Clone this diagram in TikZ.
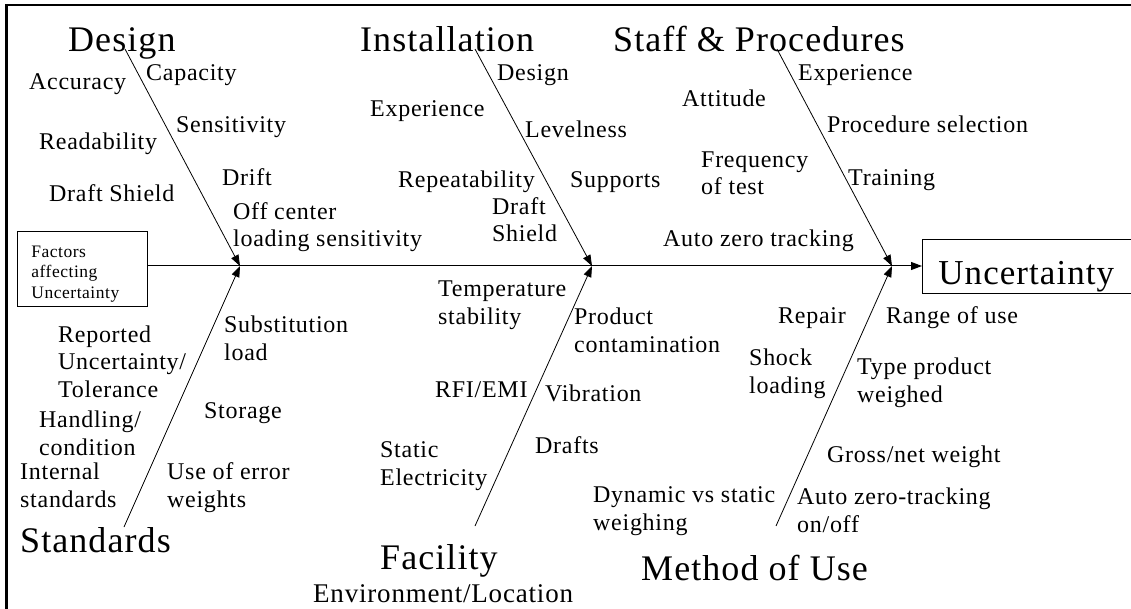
\documentclass[tikz,border=0pt]{standalone}
\usepackage{fontspec}
\setmainfont{Liberation Serif}[LetterSpace=3]
\usetikzlibrary{arrows.meta}
\begin{document}
\begin{tikzpicture}[x=1pt,y=-1pt,
  lbl/.style={font=\fontsize{24}{27.5}\selectfont, anchor=base west, inner sep=0pt, align=left},
  head/.style={font=\fontsize{36}{40}\selectfont, anchor=base west, inner sep=0pt},
  bone/.style={line width=0.8pt, -{Triangle[length=11pt,width=8pt]}},
  spine/.style={line width=1pt, -{Triangle[length=11pt,width=8pt]}},
  boxed/.style={draw, line width=0.8pt, inner ysep=0pt, align=left}]
\useasboundingbox (0,0) rectangle (1131,609);
\clip (0,0) rectangle (1131,609);
% frame
\draw[line width=2.5pt] (6.5,630) -- (6.5,5) -- (1160,5);
% headings
\node[head] (hDes) at (68,52) {Design};
\node[head] (hIns) at (360,52) {Installation};
\node[head] (hSta) at (613,52) {Staff \& Procedures};
\node[head] (hStd) at (20,552) {Standards};
\node[head] (hFac) at (380,569) {Facility};
\node[lbl, font=\fontsize{27}{30}\selectfont] (hEnv) at (313,602) {Environment/Location};
\node[head] (hMet) at (641,580) {Method of Use};
% boxes
\node[boxed, anchor=north west, inner xsep=14pt, text width=102pt, text height=26pt, text depth=49pt,
      font=\fontsize{17.5}{20.5}\selectfont] (fac) at (17,231) {Factors\\affecting\\Uncertainty};
\node[boxed, anchor=base west, inner xsep=16pt, text width=280pt, text height=46pt, text depth=8pt,
      font=\fontsize{35}{40}\selectfont] (unc) at (922,285) {Uncertainty};
% coordinates
\coordinate (j1) at (240,266);
\coordinate (j2) at (592,266);
\coordinate (j3) at (892,266);
\coordinate (tDes) at (125,49);
\coordinate (tIns) at (475,49);
\coordinate (tSta) at (777,49);
\coordinate (bStd) at (124,527);
\coordinate (bFac) at (475,526);
\coordinate (bMet) at (776,526);
% spine and bones
\draw[spine] (fac.east |- j1) -- (unc.west |- j1);
\draw[bone] (tDes) -- (j1);
\draw[bone] (tIns) -- (j2);
\draw[bone] (tSta) -- (j3);
\draw[bone] (bStd) -- (j1);
\draw[bone] (bFac) -- (j2);
\draw[bone] (bMet) -- (j3);
% Design (multi-line labels are placed by the baseline of their last line)
\node[lbl] (l1) at (29,90) {Accuracy};
\node[lbl] (l2) at (146,81) {Capacity};
\node[lbl] (l3) at (176,133) {Sensitivity};
\node[lbl] (l4) at (39,150) {Readability};
\node[lbl] (l5) at (222,186) {Drift};
\node[lbl] (l6) at (49,202) {Draft Shield};
\node[lbl] (l7) at (233,247) {Off center\\loading sensitivity};
% Installation
\node[lbl] (l8) at (497,81) {Design};
\node[lbl] (l9) at (370,117) {Experience};
\node[lbl] (l10) at (525,138) {Levelness};
\node[lbl] (l11) at (398,188) {Repeatability};
\node[lbl] (l12) at (570,188) {Supports};
\node[lbl] (l13) at (492,242) {Draft\\Shield};
% Staff
\node[lbl] (l14) at (682,107) {Attitude};
\node[lbl] (l15) at (701,195) {Frequency\\of test};
\node[lbl] (l16) at (663,247) {Auto zero tracking};
\node[lbl] (l17) at (798,81) {Experience};
\node[lbl] (l18) at (827,133) {Procedure selection};
\node[lbl] (l19) at (848,186) {Training};
% Standards
\node[lbl] (l20) at (58,397) {Reported\\Uncertainty/\\Tolerance};
\node[lbl] (l21) at (224,360) {Substitution\\load};
\node[lbl] (l22) at (204,418) {Storage};
\node[lbl] (l23) at (39,455) {Handling/\\condition};
\node[lbl] (l24) at (20,507) {Internal\\standards};
\node[lbl] (l25) at (167,507) {Use of error\\weights};
% Facility
\node[lbl] (l26) at (438,324) {Temperature\\stability};
\node[lbl] (l27) at (574,352) {Product\\contamination};
\node[lbl] (l28) at (435,397) {RFI/EMI};
\node[lbl] (l29) at (545,401) {Vibration};
\node[lbl] (l30) at (380,485) {Static\\Electricity};
\node[lbl] (l31) at (535,453) {Drafts};
% Method of use
\node[lbl] (l32) at (593,530) {Dynamic vs static\\weighing};
\node[lbl] (l33) at (778,323) {Repair};
\node[lbl] (l34) at (886,323) {Range of use};
\node[lbl] (l35) at (749,393) {Shock\\loading};
\node[lbl] (l36) at (857,402) {Type product\\weighed};
\node[lbl] (l37) at (827,462) {Gross/net weight};
\node[lbl] (l38) at (797,532) {Auto zero-tracking\\on/off};
\end{tikzpicture}
\end{document}
